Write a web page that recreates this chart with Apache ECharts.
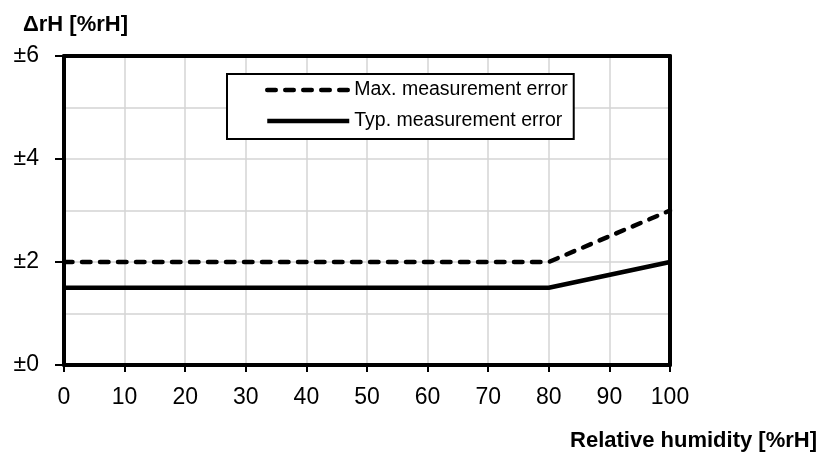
<!DOCTYPE html>
<html>
<head>
<meta charset="utf-8">
<script src="https://cdn.jsdelivr.net/npm/echarts@6/dist/echarts.min.js"></script>
<style>
html,body{margin:0;padding:0;background:#fff;}
#chart{width:826px;height:455px;}
</style>
</head>
<body>
<div id="chart"></div>
<script>
var seriesNames = ['Max. measurement error', 'Typ. measurement error'];
var humidity = [0, 80, 100];
var maxError = [2, 2, 3];
var typError = [1.5, 1.5, 2];
var yTitle = 'ΔrH [%rH]';
var xTitle = 'Relative humidity [%rH]';

var sans = '"Liberation Sans", Arial, sans-serif';

function pairs(xs, ys) { return xs.map(function (x, i) { return [x, ys[i]]; }); }

var frameAxis = {
  axisLine: {show: true, onZero: false, lineStyle: {color: '#000', width: 4}},
  axisTick: {show: false}, axisLabel: {show: false}, splitLine: {show: false}
};

var chart = echarts.init(document.getElementById('chart'), null, {renderer: 'canvas'});
chart.setOption({
  animation: false,
  backgroundColor: '#fff',
  title: [
    {text: yTitle, left: 23, top: 14, textStyle: {fontFamily: sans, fontWeight: 'bold', fontSize: 22, color: '#000'}, padding: 0},
    {text: xTitle, right: 9, top: 430, textStyle: {fontFamily: sans, fontWeight: 'bold', fontSize: 22, color: '#000'}, padding: 0}
  ],
  grid: {left: 64, right: 156, top: 56, bottom: 90, containLabel: false},
  legend: {
    orient: 'vertical', left: 227, top: 74,
    data: seriesNames,
    itemWidth: 82, itemHeight: 14, itemGap: 11,
    padding: [6, 6, 8, 38],
    borderColor: '#000', borderWidth: 2, borderRadius: 0,
    backgroundColor: '#fff',
    itemStyle: {opacity: 0, borderWidth: 0},
    lineStyle: {width: 4.5},
    textStyle: {fontFamily: sans, fontSize: 19.5, color: '#000'},
    selectedMode: false
  },
  xAxis: [{
    type: 'value', min: 0, max: 100, interval: 10,
    axisLine: {show: true, onZero: false, lineStyle: {color: '#000', width: 4}},
    axisTick: {show: true, length: 7, lineStyle: {color: '#000', width: 2}},
    axisLabel: {fontFamily: sans, fontSize: 23, color: '#000', margin: 21},
    splitLine: {show: true, lineStyle: {color: '#d4d4d4', width: 1.5}}
  }, Object.assign({type: 'value', position: 'top', min: 0, max: 100}, frameAxis)],
  yAxis: [{
    type: 'value', min: 0, max: 6, interval: 2,
    axisLine: {show: true, onZero: false, lineStyle: {color: '#000', width: 4}},
    axisTick: {show: true, length: 9, lineStyle: {color: '#000', width: 2}},
    axisLabel: {fontFamily: sans, fontSize: 23, color: '#000', margin: 25, formatter: function (v) { return '±' + v; }},
    splitLine: {show: true, lineStyle: {color: '#d4d4d4', width: 1.5}},
    minorTick: {show: false, splitNumber: 2},
    minorSplitLine: {show: true, lineStyle: {color: '#d4d4d4', width: 1.5}}
  }, Object.assign({type: 'value', position: 'right', min: 0, max: 6}, frameAxis)],
  series: [
    {name: seriesNames[0], type: 'line', data: pairs(humidity, maxError), symbol: 'none',
      itemStyle: {color: '#000'},
      lineStyle: {color: '#000', width: 4.5, type: [8.5, 9.5], cap: 'round'}, z: 3},
    {name: seriesNames[1], type: 'line', data: pairs(humidity, typError), symbol: 'none',
      itemStyle: {color: '#000'},
      lineStyle: {color: '#000', width: 4.5, type: 'solid'}, z: 3}
  ]
});
</script>
</body>
</html>
